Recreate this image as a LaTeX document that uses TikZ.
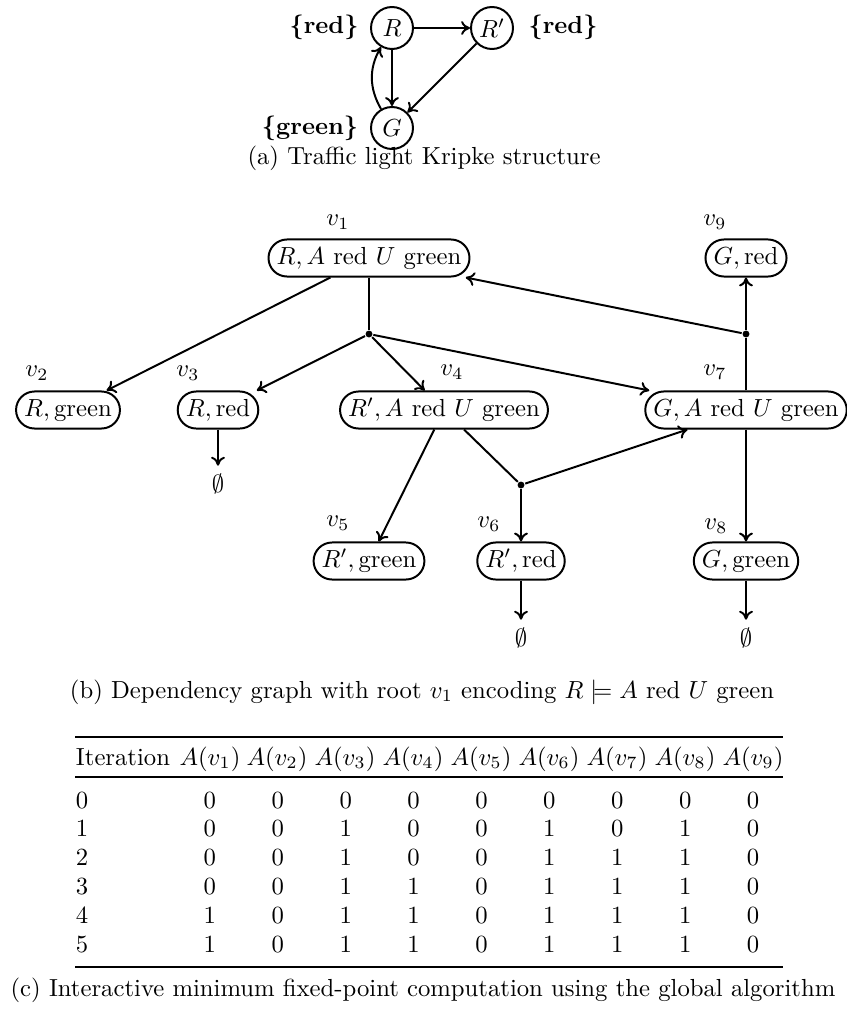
\documentclass[tikz,border=0pt]{standalone}
\usepackage{amssymb}
\usetikzlibrary{arrows.meta}
\begin{document}
\begin{tikzpicture}[x=0.405pt,y=-0.405pt,line width=0.8pt,
  kstate/.style={circle,draw,minimum size=17pt,inner sep=0pt},
  prop/.style={font=\bfseries,inner sep=0pt},
  conf/.style={rectangle,draw,rounded corners=7.5pt,minimum height=15pt,inner xsep=3.3pt,inner ysep=1.5pt},
  vlabel/.style={inner sep=0pt},
  hub/.style={circle,fill,inner sep=0pt,minimum size=2.8pt},
  leaf/.style={inner sep=3pt},
  arr/.style={-{To[length=3.6pt,width=5.6pt]}},
  capt/.style={inner sep=0pt},
  tabcell/.style={inner sep=0pt,anchor=base},
  tabfirst/.style={inner sep=0pt,anchor=base west},
  heavyrule/.style={line width=0.8pt},
  lightrule/.style={line width=0.5pt}]
\useasboundingbox (0,0) rectangle (846,1013);

% ---- (a) Kripke structure of the traffic light ----
\node[kstate] (R)  at (392,28)  {$R$};
\node[kstate] (Rp) at (492,28)  {$R'$};
\node[kstate] (G)  at (392,128) {$G$};
\node[prop] (pR)  at (324,27)  {\{red\}};
\node[prop] (pRp) at (563,27)  {\{red\}};
\node[prop] (pG)  at (310,128) {\{green\}};
\draw[arr] (R) -- (Rp);
\draw[arr] (R) -- (G);
\draw[arr] (Rp) -- (G);
\draw[arr] (G) to[bend left=30] (R);
\node[capt] (capa) at (424,158) {(a) Traffic light Kripke structure};

% ---- (b) dependency graph ----
\node[conf] (v1) at (369,258) {$R, A\ \mathrm{red}\ U\ \mathrm{green}$};
\node[conf] (v2) at (68,410)  {$R, \mathrm{green}$};
\node[conf] (v3) at (218,410) {$R, \mathrm{red}$};
\node[conf] (v4) at (444,410) {$R', A\ \mathrm{red}\ U\ \mathrm{green}$};
\node[conf] (v7) at (746,410) {$G, A\ \mathrm{red}\ U\ \mathrm{green}$};
\node[conf] (v9) at (746,258) {$G, \mathrm{red}$};
\node[conf] (v5) at (369,561) {$R', \mathrm{green}$};
\node[conf] (v6) at (521,561) {$R', \mathrm{red}$};
\node[conf] (v8) at (746,561) {$G, \mathrm{green}$};

\node[vlabel] (l1) at (338,222) {$v_1$};
\node[vlabel] (l2) at (37,373)  {$v_2$};
\node[vlabel] (l3) at (188,373) {$v_3$};
\node[vlabel] (l4) at (452,372) {$v_4$};
\node[vlabel] (l5) at (338,523) {$v_5$};
\node[vlabel] (l6) at (489,524) {$v_6$};
\node[vlabel] (l7) at (715,372) {$v_7$};
\node[vlabel] (l8) at (716,526) {$v_8$};
\node[vlabel] (l9) at (715,222) {$v_9$};

\node[hub] (h1) at (369,334) {};
\node[hub] (h2) at (746,334) {};
\node[hub] (h3) at (521,485) {};

\node[leaf] (e3) at (218,484) {$\emptyset$};
\node[leaf] (e6) at (521,638) {$\emptyset$};
\node[leaf] (e8) at (746,638) {$\emptyset$};

\draw[arr] (v1) -- (v2);
\draw (v1) -- (h1);
\draw[arr] (h1) -- (v3);
\draw[arr] (h1) -- (v4);
\draw[arr] (h1) -- (v7);
\draw (v7) -- (h2);
\draw[arr] (h2) -- (v9);
\draw[arr] (h2) -- (v1);
\draw[arr] (v4) -- (v5);
\draw (v4) -- (h3);
\draw[arr] (h3) -- (v6);
\draw[arr] (h3) -- (v7);
\draw[arr] (v7) -- (v8);
\draw[arr] (v3) -- (e3);
\draw[arr] (v6) -- (e6);
\draw[arr] (v8) -- (e8);

\node[capt] (capb) at (422,692) {(b) Dependency graph with root $v_1$ encoding $R \models A\ \mathrm{red}\ U\ \mathrm{green}$};

% ---- (c) iteration table ----
\coordinate (tl) at (75,737);
\coordinate (tr) at (783,737);
\coordinate (ml) at (75,777);
\coordinate (mr) at (783,777);
\coordinate (bl) at (75,967);
\coordinate (br) at (783,967);
\draw[heavyrule] (tl) -- (tr);
\draw[lightrule] (ml) -- (mr);
\draw[heavyrule] (bl) -- (br);

\node[tabfirst] (hit) at (75,765) {Iteration};
\foreach \c/\xx in {1/210,2/277,3/345,4/413,5/481,6/549,7/617,8/685,9/753}
  \node[tabcell] (hA\c) at (\xx,765) {$A(v_{\c})$};

\foreach \r/\vals in {0/{0,0,0,0,0,0,0,0,0},
                      1/{0,0,1,0,0,1,0,1,0},
                      2/{0,0,1,0,0,1,1,1,0},
                      3/{0,0,1,1,0,1,1,1,0},
                      4/{1,0,1,1,0,1,1,1,0},
                      5/{1,0,1,1,0,1,1,1,0}}{
  \pgfmathsetmacro{\yy}{808+28.8*\r}
  \node[tabfirst] (it\r) at (75,\yy) {\r};
  \foreach \v [count=\c] in \vals {
    \pgfmathsetmacro{\xx}{142+67.9*\c}
    \node[tabcell] (c\r-\c) at (\xx,\yy) {\v};
  }
}

\node[capt] (capc) at (423,990) {(c) Interactive minimum fixed-point computation using the global algorithm};
\end{tikzpicture}
\end{document}
